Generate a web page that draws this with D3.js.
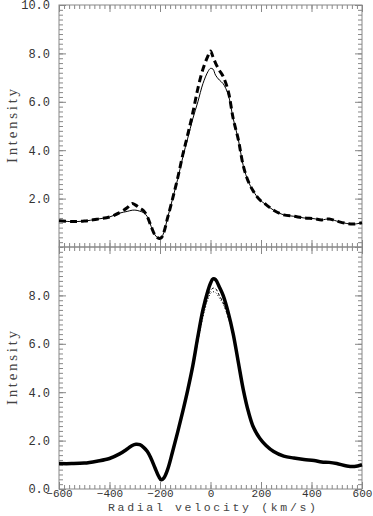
<!DOCTYPE html>
<html>
<head>
<meta charset="utf-8">
<script src="https://cdn.jsdelivr.net/npm/d3@7"></script>
<style>
  body { margin: 0; background: #fff; }
  .tick text { font-family: "Liberation Mono", monospace; font-size: 12px; fill: #333; }
  .tick line { stroke: #888; }
  .domain { display: none; }
</style>
</head>
<body>
<div id="chart"></div>
<script>
// radial velocity grid (km/s), shared by all profiles
const velocity = [-600, -550, -500, -450, -400, -360, -330, -310, -295, -280, -265, -250, -235, -220, -205, -195, -185, -170, -150, -130,
  -110, -90, -70, -50, -30, -10, 0, 10, 20, 35, 50, 70, 90, 110, 130, 150, 170, 195, 220, 250,
  290, 330, 370, 410, 440, 470, 500, 540, 570, 600];

// upper panel
const topDashed = [1.08, 1.05, 1.07, 1.15, 1.24, 1.42, 1.62, 1.80, 1.72, 1.60, 1.50, 1.25, 0.85, 0.50, 0.36, 0.38, 0.60, 1.20, 2.00, 2.85,
  3.80, 4.65, 5.55, 6.55, 7.35, 7.90, 8.10, 7.85, 7.60, 7.30, 7.05, 6.45, 5.30, 4.45, 3.35, 2.70, 2.30, 1.95, 1.75, 1.52,
  1.33, 1.27, 1.20, 1.17, 1.12, 1.16, 1.07, 0.97, 0.95, 1.00];
const topSolid = [1.08, 1.05, 1.07, 1.15, 1.24, 1.40, 1.47, 1.52, 1.52, 1.48, 1.42, 1.25, 0.85, 0.50, 0.36, 0.38, 0.60, 1.20, 2.00, 2.80,
  3.70, 4.50, 5.30, 6.00, 6.75, 7.25, 7.38, 7.35, 7.10, 6.90, 6.75, 6.30, 5.30, 4.45, 3.35, 2.70, 2.30, 1.95, 1.75, 1.52,
  1.33, 1.27, 1.20, 1.17, 1.12, 1.16, 1.07, 0.97, 0.95, 1.00];

// lower panel
const botThick = [1.05, 1.05, 1.07, 1.15, 1.26, 1.45, 1.65, 1.80, 1.85, 1.83, 1.72, 1.55, 1.25, 0.88, 0.52, 0.38, 0.45, 0.80, 1.55, 2.35,
  3.20, 4.10, 5.10, 6.30, 7.40, 8.20, 8.50, 8.68, 8.65, 8.35, 8.00, 7.30, 6.40, 5.25, 4.10, 3.20, 2.55, 2.10, 1.80, 1.55,
  1.36, 1.28, 1.22, 1.18, 1.12, 1.10, 1.05, 0.95, 0.93, 1.00];
const botDashed = [1.05, 1.05, 1.07, 1.15, 1.26, 1.45, 1.65, 1.80, 1.85, 1.83, 1.72, 1.55, 1.25, 0.88, 0.52, 0.38, 0.45, 0.80, 1.55, 2.35,
  3.20, 4.10, 5.05, 6.15, 7.20, 7.95, 8.20, 8.30, 8.28, 8.00, 7.70, 7.10, 6.30, 5.25, 4.10, 3.20, 2.55, 2.10, 1.80, 1.55,
  1.36, 1.28, 1.22, 1.18, 1.12, 1.10, 1.05, 0.95, 0.93, 1.00];
const botDotted = [1.05, 1.05, 1.07, 1.15, 1.26, 1.45, 1.65, 1.80, 1.85, 1.83, 1.72, 1.55, 1.25, 0.88, 0.52, 0.38, 0.45, 0.80, 1.55, 2.35,
  3.20, 4.05, 5.00, 6.10, 7.10, 7.85, 8.08, 8.15, 8.12, 7.90, 7.65, 7.10, 6.35, 5.30, 4.15, 3.22, 2.55, 2.10, 1.80, 1.55,
  1.36, 1.28, 1.22, 1.18, 1.12, 1.10, 1.05, 0.95, 0.93, 1.00];

const xTicks = [-600, -400, -200, 0, 200, 400, 600];
const topYTicks = [2, 4, 6, 8, 10];
const botYTicks = [0, 2, 4, 6, 8];

const W = 373, H = 516;
const plotLeft = 59, plotRight = 362, plotTop = 5, plotMid = 247, plotBottom = 489;
const frameColor = "#888";

const svg = d3.select("#chart").append("svg")
  .attr("width", W)
  .attr("height", H);

const x = d3.scaleLinear().domain([-600, 600]).range([plotLeft, plotRight]);
const yTop = d3.scaleLinear().domain([0, 10]).range([plotMid, plotTop]);
const yBot = d3.scaleLinear().domain([0, 10]).range([plotBottom, plotMid]);

const minorX = d3.range(-600, 601, 20);
const minorY = d3.range(0, 10.01, 0.2);
const fmt = d => (d < 0 ? "\u2212" : "") + Math.abs(d);

// draws ticks on all four sides of one panel
function drawFrame(y, yLabels, showX) {
  let g = svg.append("g");
  let y0 = y.range()[0], y1 = y.range()[1];

  g.append("rect")
    .attr("x", plotLeft).attr("y", y1)
    .attr("width", plotRight - plotLeft).attr("height", y0 - y1)
    .attr("fill", "none").attr("stroke", frameColor).attr("stroke-width", 1);

  // left
  g.append("g").attr("transform", `translate(${plotLeft},0)`)
    .call(d3.axisLeft(y).tickValues(minorY).tickSize(-4).tickFormat(""));
  g.append("g").attr("transform", `translate(${plotLeft},0)`)
    .call(d3.axisLeft(y).tickValues(yLabels).tickSize(-7).tickPadding(9).tickFormat(d3.format(".1f")));
  // right
  g.append("g").attr("transform", `translate(${plotRight},0)`)
    .call(d3.axisRight(y).tickValues(minorY).tickSize(-4).tickFormat(""));
  g.append("g").attr("transform", `translate(${plotRight},0)`)
    .call(d3.axisRight(y).tickValues(d3.range(0, 10.01, 2)).tickSize(-7).tickFormat(""));
  // top
  g.append("g").attr("transform", `translate(0,${y1})`)
    .call(d3.axisTop(x).tickValues(minorX).tickSize(-4).tickFormat(""));
  g.append("g").attr("transform", `translate(0,${y1})`)
    .call(d3.axisTop(x).tickValues(xTicks).tickSize(-7).tickFormat(""));
  // bottom
  g.append("g").attr("transform", `translate(0,${y0})`)
    .call(d3.axisBottom(x).tickValues(minorX).tickSize(-4).tickFormat(""));
  if (showX) {
    g.append("g").attr("transform", `translate(0,${y0})`)
      .call(d3.axisBottom(x).tickValues(xTicks).tickSize(-7).tickPadding(0).tickFormat(fmt))
      .selectAll("text").style("font-size", "11px");
  } else {
    g.append("g").attr("transform", `translate(0,${y0})`)
      .call(d3.axisBottom(x).tickValues(xTicks).tickSize(-7).tickFormat(""));
  }

  g.selectAll(".tick line").attr("stroke", frameColor);

  // y title
  let cy = (y0 + y1) / 2;
  g.append("text")
    .attr("transform", `translate(17,${cy}) rotate(-90)`)
    .attr("text-anchor", "middle")
    .attr("font-family", "Liberation Serif, serif")
    .attr("font-size", "15px")
    .attr("fill", "#444")
    .attr("textLength", 74)
    .attr("lengthAdjust", "spacing")
    .text("Intensity");
}

drawFrame(yTop, topYTicks, false);
drawFrame(yBot, botYTicks, true);

function drawLine(values, y, w, dash) {
  let line = d3.line()
    .x((d, i) => x(velocity[i]))
    .y(d => y(d))
    .curve(d3.curveCatmullRom.alpha(0.5));
  svg.append("path")
    .datum(values)
    .attr("d", line)
    .attr("fill", "none")
    .attr("stroke", "#000")
    .attr("stroke-width", w)
    .attr("stroke-linejoin", "round")
    .attr("stroke-dasharray", dash);
}

drawLine(topSolid, yTop, 1, null);
drawLine(topDashed, yTop, 3, "7,4");

drawLine(botDotted, yBot, 1, "1,2");
drawLine(botDashed, yBot, 1, "3,2");
drawLine(botThick, yBot, 3.5, null);

svg.append("text")
  .attr("x", 212)
  .attr("y", 511)
  .attr("text-anchor", "middle")
  .attr("font-family", "Liberation Mono, monospace")
  .attr("font-size", "11.5px")
  .attr("fill", "#444")
  .attr("textLength", 208)
  .attr("lengthAdjust", "spacing")
  .text("Radial velocity (km/s)");
</script>
</body>
</html>
